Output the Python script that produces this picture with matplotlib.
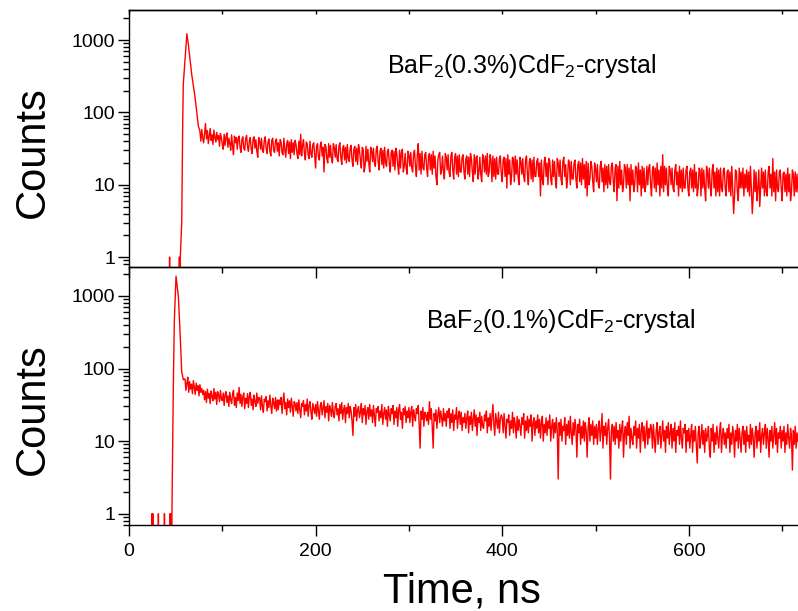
import numpy as np
import matplotlib
matplotlib.use("Agg")
import matplotlib.pyplot as plt
from matplotlib.ticker import LogLocator, MultipleLocator, NullFormatter

plt.rcParams["font.family"] = "Liberation Sans"
plt.rcParams["mathtext.fontset"] = "custom"
plt.rcParams["mathtext.rm"] = "Liberation Sans"
plt.rcParams["mathtext.default"] = "regular"

# BaF2(0.3%)CdF2 - leading channels and the fast peak
top_head_t = [0, 43, 43.5, 44, 53.5, 54, 54.5, 55, 56.5, 57.6, 58.2, 62, 63.6, 67.2, 70.8, 74.3]
top_head_c = [0, 0, 1, 0, 0, 1, 0, 1, 3, 77, 247, 1220, 875, 336, 161, 65]
# slow tail, one channel per ns from 76 ns
top_tail_start = 76
top_tail_c = [
    55, 40, 58, 44, 38, 52, 70, 43, 56, 37, 47, 60, 41, 49, 36, 57, 45, 39, 53, 42,
    48, 34, 51, 45, 36, 31, 50, 35, 46, 52, 33, 44, 37, 30, 49, 34, 26, 47, 38, 45,
    31, 44, 47, 33, 28, 42, 46, 32, 30, 43, 48, 34, 29, 41, 45, 31, 27, 43, 46, 32,
    42, 29, 24, 45, 40, 31, 44, 30, 28, 41, 46, 32, 27, 39, 43, 29, 25, 41, 44, 30,
    28, 40, 43, 29, 38, 25, 42, 39, 28, 26, 44, 30, 24, 37, 41, 27, 39, 23, 42, 28,
    38, 26, 41, 36, 27, 23, 40, 26, 50, 25, 35, 42, 27, 22, 39, 37, 26, 23, 40, 27,
    24, 36, 38, 25, 17, 34, 37, 24, 22, 35, 39, 25, 33, 15, 36, 34, 23, 20, 37, 24,
    35, 23, 20, 37, 33, 24, 36, 23, 21, 34, 38, 24, 19, 32, 35, 22, 33, 20, 36, 23,
    21, 32, 35, 22, 18, 31, 34, 21, 32, 19, 36, 30, 22, 17, 33, 31, 15, 18, 34, 21,
    31, 20, 15, 33, 30, 21, 32, 20, 18, 31, 34, 21, 16, 29, 32, 19, 30, 17, 33, 20,
    18, 29, 31, 19, 15, 28, 30, 18, 29, 16, 32, 27, 19, 14, 30, 17, 28, 31, 15, 18,
    27, 17, 14, 29, 26, 18, 28, 17, 15, 27, 30, 18, 13, 26, 37, 16, 27, 14, 29, 17,
    16, 26, 28, 17, 13, 25, 27, 16, 26, 14, 29, 17, 25, 13, 10, 22, 26, 28, 14, 16,
    25, 15, 12, 27, 24, 16, 26, 15, 13, 25, 28, 16, 12, 24, 27, 14, 25, 13, 26, 15,
    15, 24, 26, 15, 12, 23, 25, 14, 24, 13, 27, 23, 15, 11, 26, 14, 24, 25, 12, 15,
    24, 14, 11, 26, 23, 15, 25, 14, 27, 13, 15, 26, 22, 11, 25, 13, 23, 12, 24, 14,
    14, 23, 25, 14, 11, 22, 24, 13, 23, 9, 26, 14, 22, 10, 13, 24, 23, 11, 25, 14,
    22, 13, 10, 24, 21, 14, 23, 13, 11, 22, 25, 14, 10, 21, 23, 12, 22, 11, 24, 13,
    13, 21, 23, 13, 20, 7, 22, 12, 10, 21, 24, 13, 20, 10, 23, 21, 12, 10, 22, 13,
    21, 12, 9, 23, 20, 13, 22, 12, 10, 21, 24, 13, 19, 9, 12, 22, 20, 10, 21, 12,
    12, 20, 22, 12, 9, 19, 21, 11, 20, 10, 23, 12, 19, 9, 21, 7, 20, 10, 12, 21,
    18, 11, 8, 20, 17, 11, 19, 10, 9, 18, 21, 11, 17, 8, 19, 10, 18, 9, 19, 11,
    10, 18, 20, 11, 8, 17, 19, 6, 18, 9, 21, 10, 16, 8, 10, 19, 17, 9, 19, 10,
    17, 6, 19, 10, 16, 8, 10, 18, 17, 8, 20, 10, 16, 7, 18, 9, 17, 8, 10, 18,
    10, 17, 19, 10, 7, 16, 18, 9, 17, 8, 20, 10, 16, 7, 18, 9, 26, 8, 18, 10,
    17, 9, 7, 18, 16, 10, 17, 9, 8, 16, 19, 10, 15, 7, 18, 9, 16, 8, 17, 9,
    9, 16, 18, 9, 7, 15, 17, 9, 16, 8, 19, 9, 15, 7, 9, 17, 16, 7, 17, 9,
    16, 9, 6, 18, 15, 9, 17, 9, 7, 16, 19, 9, 15, 7, 17, 8, 16, 7, 17, 9,
    8, 16, 17, 9, 7, 15, 16, 8, 15, 7, 18, 9, 4, 7, 16, 15, 8, 6, 17, 9,
    15, 9, 17, 7, 14, 9, 16, 8, 15, 7, 18, 9, 4, 7, 16, 8, 15, 6, 9, 16,
    5, 9, 17, 9, 15, 7, 16, 8, 7, 15, 18, 9, 14, 7, 23, 8, 15, 6, 16, 9,
    8, 15, 16, 9, 6, 14, 15, 8, 14, 7, 17, 8, 14, 6, 8, 16, 14, 7, 15, 8, 14, 8,
]

# BaF2(0.1%)CdF2
bot_head_t = [0, 1, 24, 24.5, 25, 25.5, 26, 31, 31.5, 32, 37.5, 38, 38.5,
              43.5, 44, 44.5, 45, 45.5, 46, 47.5, 48.6, 50.4, 52.9, 54.7, 56.5, 58.2]
bot_head_c = [1, 0, 0, 1, 0, 1, 0, 0, 1, 0, 0, 1, 0,
              0, 1, 0, 1, 0, 1, 56, 466, 1870, 980, 320, 90, 70]
bot_tail_start = 60
bot_tail_c = [
    72, 50, 63, 76, 47, 66, 52, 61, 45, 68, 55, 44, 63, 50, 58, 42, 60, 47, 53, 44,
    50, 37, 48, 34, 52, 39, 45, 33, 49, 41, 36, 53, 38, 47, 32, 48, 43, 35, 50, 38,
    36, 46, 31, 44, 48, 34, 42, 30, 47, 37, 33, 45, 50, 31, 40, 29, 46, 36, 55, 33,
    44, 30, 41, 46, 28, 39, 33, 45, 29, 42, 47, 31, 38, 27, 43, 35, 30, 46, 33, 40,
    39, 27, 42, 30, 25, 38, 35, 41, 26, 36, 29, 43, 31, 24, 39, 34, 28, 40, 26, 37,
    27, 37, 32, 40, 24, 35, 46, 28, 34, 23, 38, 29, 36, 25, 39, 30, 22, 35, 33, 26,
    34, 24, 37, 27, 21, 33, 30, 36, 23, 32, 26, 38, 22, 31, 35, 25, 20, 33, 28, 24,
    32, 22, 35, 26, 20, 31, 34, 23, 29, 36, 21, 30, 25, 33, 19, 31, 27, 22, 34, 24,
    21, 30, 33, 23, 28, 19, 32, 24, 34, 20, 27, 31, 18, 29, 24, 33, 21, 30, 26, 19,
    12, 29, 22, 32, 19, 27, 30, 21, 25, 33, 18, 28, 23, 31, 17, 26, 29, 20, 32, 22,
    27, 18, 31, 22, 16, 28, 25, 30, 19, 26, 21, 32, 17, 24, 29, 20, 27, 16, 30, 23,
    19, 28, 24, 31, 17, 26, 21, 29, 16, 27, 32, 20, 25, 15, 28, 23, 30, 18, 26, 21,
    29, 18, 25, 30, 16, 27, 22, 19, 28, 24, 31, 17, 8, 26, 20, 29, 16, 25, 23, 19,
    25, 17, 35, 20, 28, 16, 8, 24, 19, 27, 15, 23, 29, 18, 26, 21, 16, 28, 19, 24,
    16, 26, 21, 28, 15, 24, 18, 27, 14, 23, 20, 29, 15, 22, 26, 17, 25, 14, 21, 18,
    24, 15, 21, 26, 13, 22, 17, 25, 14, 20, 27, 16, 23, 12, 21, 18, 25, 14, 22, 16,
    15, 23, 19, 26, 13, 21, 16, 24, 14, 22, 32, 17, 12, 24, 19, 15, 25, 13, 20, 23,
    21, 13, 24, 16, 11, 20, 18, 23, 12, 19, 15, 25, 13, 21, 17, 11, 22, 14, 20, 16,
    12, 21, 17, 24, 11, 19, 14, 22, 13, 20, 16, 23, 10, 18, 21, 12, 19, 15, 23, 13,
    20, 11, 18, 22, 10, 17, 13, 21, 12, 19, 15, 23, 10, 16, 20, 11, 18, 13, 21, 14,
    3, 18, 12, 20, 10, 16, 14, 21, 9, 17, 12, 19, 11, 22, 13, 9, 18, 12, 20, 15,
    6, 17, 13, 20, 9, 16, 11, 19, 10, 18, 14, 6, 15, 21, 10, 17, 12, 19, 9, 16,
    11, 17, 9, 15, 19, 10, 14, 24, 8, 16, 12, 18, 9, 15, 20, 11, 3, 14, 17, 10,
    16, 9, 18, 11, 14, 8, 17, 10, 15, 19, 6, 13, 16, 9, 18, 12, 22, 8, 15, 11,
    9, 16, 12, 19, 8, 15, 11, 17, 7, 14, 18, 10, 16, 8, 13, 19, 9, 15, 11, 17,
    15, 8, 17, 11, 7, 14, 18, 9, 13, 16, 8, 12, 19, 10, 14, 7, 16, 11, 18, 9,
    13, 17, 8, 15, 10, 18, 7, 14, 12, 16, 9, 19, 11, 8, 15, 13, 17, 7, 14, 10,
    15, 8, 12, 17, 7, 14, 10, 16, 9, 5, 13, 16, 8, 11, 17, 9, 14, 7, 15, 10,
    12, 16, 8, 6, 15, 10, 17, 7, 13, 9, 16, 11, 8, 14, 18, 7, 12, 15, 9, 13,
    8, 15, 11, 17, 7, 13, 9, 16, 12, 6, 14, 10, 17, 8, 15, 11, 7, 13, 16, 9,
    14, 7, 16, 10, 12, 8, 17, 9, 15, 11, 6, 13, 16, 8, 14, 10, 18, 7, 12, 15,
    9, 13, 17, 8, 15, 11, 6, 14, 10, 16, 8, 12, 18, 9, 15, 7, 13, 11, 16, 8,
    14, 10, 16, 7, 13, 9, 17, 11, 8, 15, 12, 4, 14, 9, 16, 8, 13, 10,
]

labels = ["BaF$_2$(0.3%)CdF$_2$-crystal", "BaF$_2$(0.1%)CdF$_2$-crystal"]

t_top = np.concatenate([top_head_t, top_tail_start + np.arange(len(top_tail_c))])
c_top = np.concatenate([top_head_c, top_tail_c])
t_bot = np.concatenate([bot_head_t, bot_tail_start + np.arange(len(bot_tail_c))])
c_bot = np.concatenate([bot_head_c, bot_tail_c])

W, H = 798, 611
fig = plt.figure(figsize=(W / 100, H / 100), dpi=100)
ax1 = fig.add_axes([129 / W, 1 - 267 / H, 1 - 129 / W, 257 / H])
ax2 = fig.add_axes([129 / W, 1 - 525 / H, 1 - 129 / W, 258 / H])

for ax, t, c, ylim in [(ax1, t_top, c_top, (0.73, 2600)), (ax2, t_bot, c_bot, (0.7, 2500))]:
    ax.patch.set_visible(False)
    ax.plot(t, c, color="#ff0000", lw=1.0)
    ax.set_yscale("log")
    ax.set_xlim(0, 717)
    ax.set_ylim(*ylim)
    ax.set_yticks([1, 10, 100, 1000])
    ax.set_yticklabels(["1", "10", "100", "1000"])
    ax.yaxis.set_minor_locator(LogLocator(base=10, subs=np.arange(2, 10), numticks=20))
    ax.yaxis.set_minor_formatter(NullFormatter())
    ax.xaxis.set_major_locator(MultipleLocator(200))
    ax.xaxis.set_minor_locator(MultipleLocator(100))
    ax.spines["right"].set_visible(False)
    for s in ax.spines.values():
        s.set_linewidth(1.0)
    ax.tick_params(which="major", direction="out", length=8, width=1.0, labelsize=14)
    ax.tick_params(which="minor", direction="out", length=4.5, width=1.0)
    ax.tick_params(axis="y", pad=2)
    ax.tick_params(axis="x", pad=5)

ax1.tick_params(axis="x", which="both", labelbottom=False)
ax2.tick_params(axis="x", which="both", top=False)

# short inward marks on the top frame
ax1_top = ax1.secondary_xaxis("top")
ax1_top.xaxis.set_major_locator(MultipleLocator(100))
ax1_top.tick_params(direction="in", length=3, width=1.0, labeltop=False)
ax1_top.spines["top"].set_linewidth(1.0)

fig.text(33 / W, 1 - 152 / H, "Counts", rotation=90, ha="center", va="center", fontsize=30)
fig.text(33 / W, 1 - 409 / H, "Counts", rotation=90, ha="center", va="center", fontsize=30)
fig.text(462 / W, 1 - 603 / H, "Time, ns", ha="center", va="baseline", fontsize=30)
fig.text(387 / W, 1 - 73 / H, labels[0], ha="left", va="baseline", fontsize=18)
fig.text(426 / W, 1 - 328 / H, labels[1], ha="left", va="baseline", fontsize=18)

fig.savefig("out.png", dpi=100)
